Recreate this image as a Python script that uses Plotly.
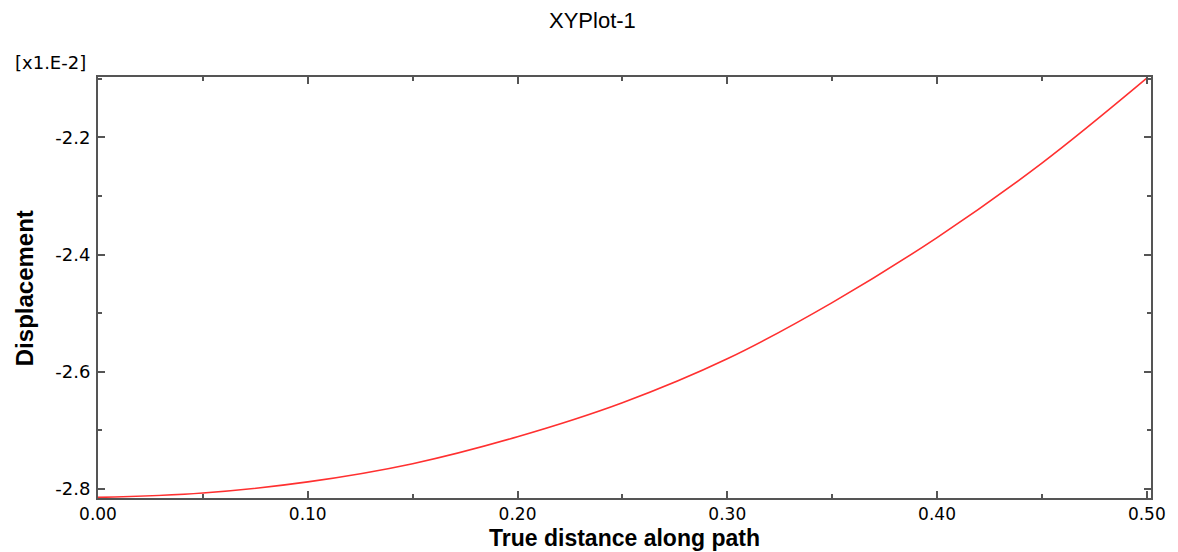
import plotly.graph_objects as go

# Data (displacement in units of 1e-2)
distance = [0.00, 0.05, 0.10, 0.15, 0.20, 0.25, 0.30, 0.35, 0.40, 0.45, 0.50]
displacement = [-2.8145, -2.807, -2.788, -2.757, -2.711, -2.653, -2.578, -2.482, -2.371, -2.244, -2.099]

x_ticks = [0.0, 0.1, 0.2, 0.3, 0.4, 0.5]
x_labels = ["0.00", "0.10", "0.20", "0.30", "0.40", "0.50"]
y_ticks = [-2.8, -2.6, -2.4, -2.2]
y_labels = ["-2.8", "-2.6", "-2.4", "-2.2"]

W, H = 1178, 552
L, R, T, B = 98, 24, 77, 54
pw, ph = W - L - R, H - T - B

def px(x):
    return (x - L) / pw

def py(y):
    return (H - B - y) / ph

fig = go.Figure()
fig.add_trace(go.Scatter(
    x=distance, y=displacement, mode="lines",
    line=dict(color="#ff3030", width=1.6, shape="spline", smoothing=1.0),
    showlegend=False, hoverinfo="skip",
))

axis_common = dict(
    showline=True, linecolor="#555555", linewidth=2, mirror="ticks",
    ticks="inside", ticklen=7, tickwidth=1.5, tickcolor="#555555",
    showgrid=False, zeroline=False,
)

fig.update_layout(
    width=W, height=H,
    margin=dict(l=L, r=R, t=T, b=B),
    paper_bgcolor="white", plot_bgcolor="white",
    xaxis=dict(range=[0, 0.502], tickvals=x_ticks, ticktext=x_labels,
               minor=dict(ticks="inside", ticklen=4, dtick=0.05, tick0=0, tickcolor="#555555", tickwidth=1.5),
               ticklabelstandoff=0, tickfont=dict(family="DejaVu Sans", size=17, color="black"),
               **axis_common),
    yaxis=dict(range=[-2.8155, -2.097], tickvals=y_ticks, ticktext=y_labels,
               minor=dict(ticks="inside", ticklen=4, dtick=0.1, tick0=-2.8, tickcolor="#555555", tickwidth=1.5),
               ticklabelstandoff=2, tickfont=dict(family="DejaVu Sans", size=18, color="black"),
               **axis_common),
    annotations=[
        dict(text="XYPlot-1", xref="paper", yref="paper", x=px(594), y=py(20),
             showarrow=False, font=dict(family="Liberation Sans", size=22, color="black"),
             xanchor="center", yanchor="middle"),
        dict(text="[x1.E-2]", xref="paper", yref="paper", x=px(50), y=py(63),
             showarrow=False, font=dict(family="DejaVu Sans", size=18, color="black"),
             xanchor="center", yanchor="middle"),
        dict(text="<b>True distance along path</b>", xref="paper", yref="paper", x=px(626), y=py(538),
             showarrow=False, font=dict(family="Liberation Sans", size=23, color="black"),
             xanchor="center", yanchor="middle"),
        dict(text="<b>Displacement</b>", xref="paper", yref="paper", x=px(24), y=py(288),
             showarrow=False, textangle=-90, font=dict(family="Liberation Sans", size=24, color="black"),
             xanchor="center", yanchor="middle"),
    ],
)

fig.write_html("out.html", config={"displayModeBar": False},
               post_script="document.body.style.margin='0';document.body.style.overflow='hidden';")
